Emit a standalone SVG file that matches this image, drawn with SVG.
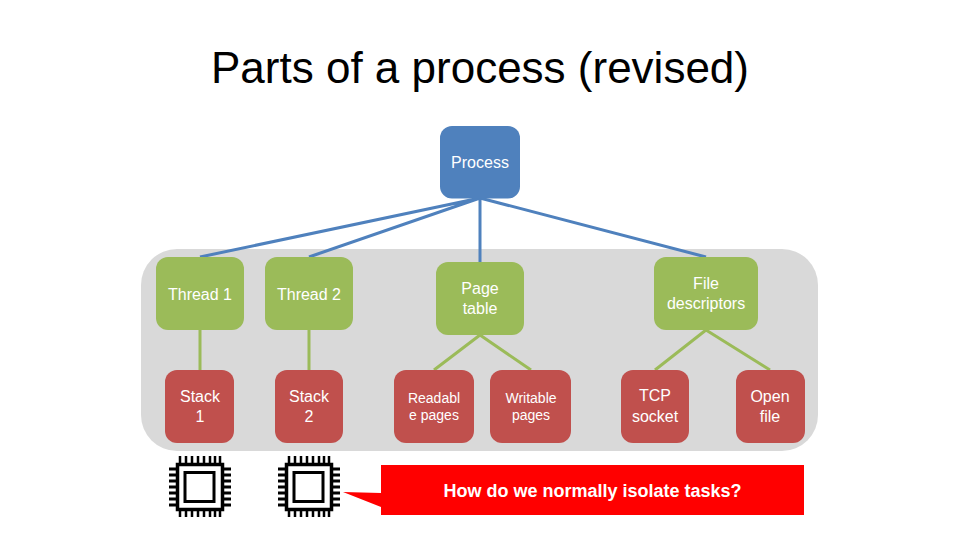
<svg xmlns="http://www.w3.org/2000/svg" width="960" height="540" viewBox="0 0 960 540">
<style>
text{font-family:"Liberation Sans",Arial,sans-serif;text-anchor:middle;fill:#fff}
.t{font-size:16px}
.s{font-size:14px}
.blue{fill:#4f81bd}
.green{fill:#9bbb59}
.red{fill:#c0504d}
.cb{stroke:#4f81bd;stroke-width:3;fill:none}
.cg{stroke:#9bbb59;stroke-width:3;fill:none}
</style>
<defs>
<g id="chip">
<rect x="177.500" y="464.500" width="45" height="45" fill="#fff" stroke="#000" stroke-width="3.500"/>
<rect x="185" y="472.500" width="29" height="29" fill="#fff" stroke="#000" stroke-width="3"/>
<path stroke="#000" stroke-width="3" fill="none" d="M169 469H177M169 475H177M169 481H177M169 487H177M169 493H177M169 499H177M169 505H177M223 469H231M223 475H231M223 481H231M223 487H231M223 493H231M223 499H231M223 505H231"/>
<path stroke="#000" stroke-width="2.500" fill="none" d="M180 456V464M186 456V464M192 456V464M198 456V464M204 456V464M210 456V464M215 456V464M220 456V464M180 510V517M186 510V517M192 510V517M198 510V517M204 510V517M210 510V517M215 510V517M220 510V517"/>
</g>
</defs>
<rect width="960" height="540" fill="#fff"/>
<text id="title" x="480" y="83" style="font-size:44px;fill:#000">Parts of a process (revised)</text>
<rect id="backdrop" x="141" y="249" width="677" height="202" rx="36" fill="#d9d9d9"/>
<g id="connectors">
<path class="cb" d="M480 198L200 257M480 198L309 257M480 198V262M480 198L706 257"/>
<path class="cg" d="M200 330V370M309 330V370M480 335L434 370M480 335L531 370M706 330L655 370M706 330L770 370"/>
</g>
<g id="process"><rect class="blue" x="440" y="126" width="80" height="72.500" rx="12"/><text class="t" x="480" y="167.500">Process</text></g>
<g id="thread1"><rect class="green" x="156" y="257" width="88" height="73" rx="12"/><text class="t" x="200" y="299.500">Thread 1</text></g>
<g id="thread2"><rect class="green" x="265" y="257" width="88" height="73" rx="12"/><text class="t" x="309" y="299.500">Thread 2</text></g>
<g id="pagetable"><rect class="green" x="436" y="262" width="88" height="73" rx="12"/><text class="t" x="480" y="294">Page</text><text class="t" x="480" y="314">table</text></g>
<g id="filedesc"><rect class="green" x="654" y="257" width="104" height="73" rx="12"/><text class="t" x="706" y="289">File</text><text class="t" x="706" y="309">descriptors</text></g>
<g id="stack1"><rect class="red" x="165" y="370" width="69" height="73" rx="12"/><text class="t" x="200" y="402">Stack</text><text class="t" x="200" y="422">1</text></g>
<g id="stack2"><rect class="red" x="275" y="370" width="68" height="73" rx="12"/><text class="t" x="309" y="402">Stack</text><text class="t" x="309" y="422">2</text></g>
<g id="readable"><rect class="red" x="394" y="370" width="80" height="73" rx="12"/><text class="s" x="434" y="403">Readabl</text><text class="s" x="434" y="420">e pages</text></g>
<g id="writable"><rect class="red" x="490" y="370" width="81" height="73" rx="12"/><text class="s" x="531" y="403">Writable</text><text class="s" x="531" y="420">pages</text></g>
<g id="tcp"><rect class="red" x="621" y="370" width="68" height="73" rx="12"/><text class="t" x="655" y="401">TCP</text><text class="t" x="655" y="422">socket</text></g>
<g id="openfile"><rect class="red" x="736" y="370" width="69" height="73" rx="12"/><text class="t" x="770" y="402">Open</text><text class="t" x="770" y="422">file</text></g>
<use id="cpu1" href="#chip"/>
<use id="cpu2" href="#chip" x="109"/>
<g id="callout"><path fill="#f00" d="M381 465H804V515H381V507L343 492L381 493Z"/><text x="592.500" y="496.500" style="font-size:18px;font-weight:bold">How do we normally isolate tasks?</text></g>
</svg>
